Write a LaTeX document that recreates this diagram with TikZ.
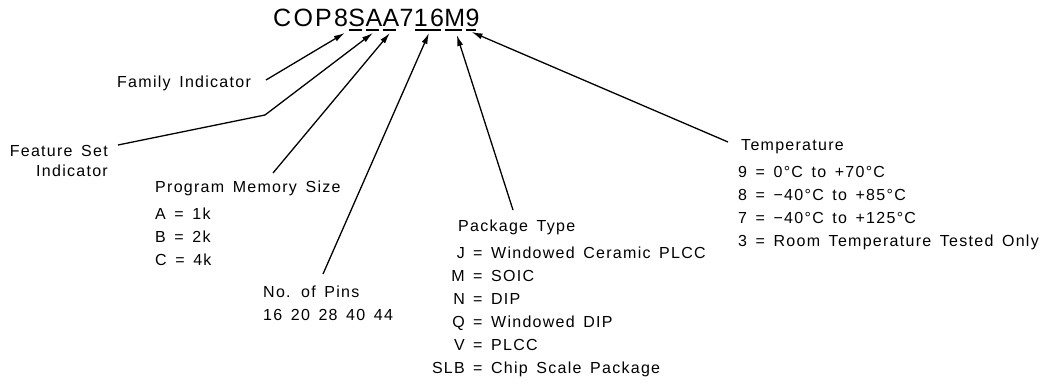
\documentclass[tikz,border=0pt]{standalone}
\usepackage{fontspec}
\setmainfont{Liberation Sans}
\newfontfamily\lblfont[LetterSpace=8,WordSpace=1.5]{Liberation Sans}
\newfontfamily\ttlfont[LetterSpace=9]{Liberation Sans}
\usetikzlibrary{arrows.meta}
\begin{document}
\begin{tikzpicture}[x=1pt,y=-1pt,
  lbl/.style={font=\lblfont\fontsize{16}{23}\selectfont, inner sep=0pt, anchor=base west},
  lblr/.style={lbl, anchor=base east},
  ttl/.style={font=\ttlfont\fontsize{25}{28}\selectfont, inner sep=0pt, anchor=base west},
  ptr/.style={line width=1.3pt, -{Latex[length=11pt,width=6pt]}},
  ul/.style={line width=2pt}]
\useasboundingbox (0,0) rectangle (1046,385);

% title
\node[ttl] (t0) at (273,27) {COP8};
\node[ttl] (tS) at (t0.base east) {S};
\node[ttl] (tA) at (tS.base east) {A};
\node[ttl] (tAA) at (tA.base east) {A};
\node[ttl] (t7) at (tAA.base east) {7};
\node[ttl] (t16) at (t7.base east) {16};
\node[ttl] (tM) at (t16.base east) {M};
\node[ttl] (t9) at (tM.base east) {9};
\foreach \n in {tS,tA,tAA,t16,tM,t9}
  \draw[ul] ([shift={(1,3.5)}]\n.base west) -- ([shift={(-3.5,3.5)}]\n.base east);

% labels
\node[lbl] (fam) at (117,88) {Family Indicator};
\node[lblr] (feat1) at (108,157) {Feature Set};
\node[lblr] (feat2) at (108,176) {Indicator};
\node[lbl] (prog) at (155,192) {Program Memory Size};
\node[lbl] (progl) at (155,219) {\begin{tabular}[t]{@{}l@{}}A = 1k\\B = 2k\\C = 4k\end{tabular}};
\node[lbl] (pins) at (263,297) {No. of Pins};
\node[lbl] (pinsl) at (263,320) {16 20 28 40 44};
\node[lbl] (pkg) at (458,231) {Package Type};
\node[lbl, anchor=base east] (pkgk) at (465,258) {\begin{tabular}[t]{@{}r@{}}J\\M\\N\\Q\\V\\SLB\end{tabular}};
\node[lbl] (pkgv) at (473,258) {\begin{tabular}[t]{@{}l@{}}= Windowed Ceramic PLCC\\= SOIC\\= DIP\\= Windowed DIP\\= PLCC\\= Chip Scale Package\end{tabular}};
\node[lbl] (temp) at (741,150) {Temperature};
\node[lbl] (templ) at (738,177) {\begin{tabular}[t]{@{}l@{}}9 = 0°C to +70°C\\8 = −40°C to +85°C\\7 = −40°C to +125°C\\3 = Room Temperature Tested Only\end{tabular}};

% connector free ends
\coordinate (cFam) at (266,80);
\coordinate (cFeat) at (118,145);
\coordinate (cFeatB) at (265,115);
\coordinate (cProg) at (273,173);
\coordinate (cPins) at (323,274);
\coordinate (cPkg) at (513,210);
\coordinate (cTemp) at (728,142);

\draw[ptr] (cFam) -- ([shift={(-12,6)}]tS.base);
\draw[ptr] (cFeat) -- (cFeatB) -- ([shift={(-1,6)}]tA.base);
\draw[ptr] (cProg) -- ([shift={(-1,6)}]tAA.base);
\draw[ptr] (cPins) -- ([shift={(0,6)}]t16.base);
\draw[ptr] (cPkg) -- ([shift={(2,8)}]tM.base);
\draw[ptr] (cTemp) -- ([shift={(-1,5)}]t9.base);
\end{tikzpicture}
\end{document}
